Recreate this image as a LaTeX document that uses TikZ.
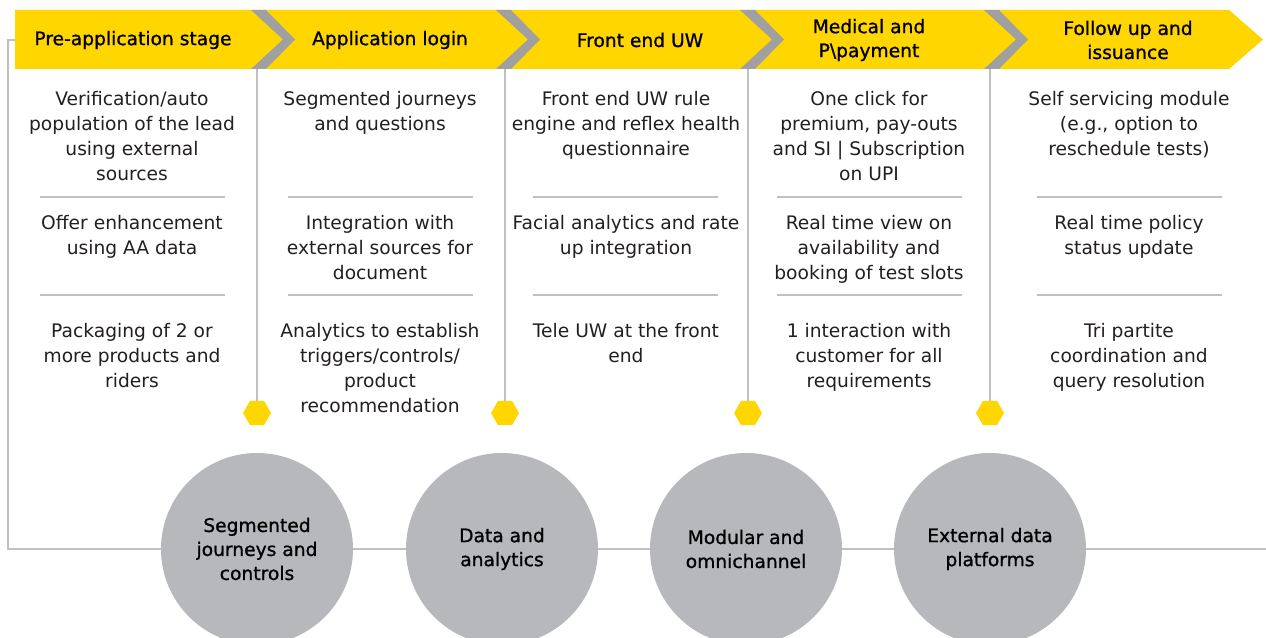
\documentclass[tikz,border=0pt]{standalone}
\usepackage{fontspec}
\setmainfont{DejaVu Sans}
\newfontfamily\headfont[FakeBold=1.0]{DejaVu Sans}
\usetikzlibrary{shapes.geometric}

\definecolor{eyyellow}{RGB}{255,214,0}
\definecolor{chevgray}{RGB}{160,160,160}
\definecolor{linegray}{RGB}{192,192,192}
\definecolor{circgray}{RGB}{182,184,187}
\definecolor{inkgray}{RGB}{35,31,32}

\newcommand{\colstrut}{\rule{0pt}{11.25pt}}

\begin{document}
\begin{tikzpicture}[x=0.75pt, y=-0.75pt]

\tikzstyle{every node}=[font=\fontsize{14}{18.75}\selectfont, text=inkgray]
\tikzstyle{head} = [font=\headfont\fontsize{14}{18}\selectfont, text=black, align=center, inner sep=0]
\tikzstyle{item} = [align=center, anchor=north, inner sep=0]
\tikzstyle{hub} = [circle, fill=circgray, minimum size=144pt, inner sep=0, align=center, text=black, font=\headfont\fontsize{14}{18}\selectfont]
\tikzstyle{hexa} = [regular polygon, regular polygon sides=6, fill=eyyellow, minimum size=21pt, inner sep=0]
\tikzstyle{guide} = [draw=linegray, line width=1.1pt]
\tikzstyle{rule} = [draw=linegray, line width=1.5pt]

\useasboundingbox (0,0) rectangle (1266,638);

% Header band
\fill[eyyellow] (15,10) -- (1229,10) -- (1263,39.5) -- (1229,69) -- (15,69) -- cycle;
\foreach \a in {251,496,740,984}
  \fill[chevgray] (\a,10) -- (\a+15,10) -- (\a+44,39.5) -- (\a+15,69) -- (\a,69) -- (\a+32,39.5) -- cycle;

% Stages
\node[head] (prestage) at (133,40) {Pre-application stage};
\node[head] (login) at (390,40) {Application login};
\node[head] (frontuw) at (640,40) {Front end UW};
\node[head] (medical) at (869,40) {Medical and\\P\textbackslash payment};
\node[head] (issuance) at (1128,40) {Follow up and\\issuance};

% Frame line
\coordinate (fstart) at (15,40);
\coordinate (fend) at (1266,549);
\draw[guide] (fstart) -- ++(-7,0) |- (fend);

% Drops and hexagons
\foreach \x [count=\i] in {257,505,748,990} {
  \coordinate (drop\i) at (\x,69);
  \node[hexa] (hx\i) at (\x,413) {};
  \draw[guide] (drop\i) -- (hx\i);
}

% Separators
\foreach \c in {132,380,625.5,869.5,1129.5} {
  \draw[rule] (\c-92.5,196.5) -- (\c+92.5,196.5);
  \draw[rule] (\c-92.5,294.5) -- (\c+92.5,294.5);
}

% Column 1
\node[item] (verify) at (132,90) {\colstrut Verification/auto\\population of the lead\\using external\\sources};
\node[item] (offer) at (132,214) {\colstrut Offer enhancement\\using AA data};
\node[item] (packaging) at (132,322) {\colstrut Packaging of 2 or\\more products and\\riders};

% Column 2
\node[item] (segjour) at (380,90) {\colstrut Segmented journeys\\and questions};
\node[item] (integration) at (380,214) {\colstrut Integration with\\external sources for\\document};
\node[item] (triggers) at (380,322) {\colstrut Analytics to establish\\triggers/controls/\\product\\recommendation};

% Column 3
\node[item] (ruleengine) at (626,90) {\colstrut Front end UW rule\\engine and reflex health\\questionnaire};
\node[item] (facial) at (626,214) {\colstrut Facial analytics and rate\\up integration};
\node[item] (teleuw) at (626,322) {\colstrut Tele UW at the front\\end};

% Column 4
\node[item] (oneclick) at (869,90) {\colstrut One click for\\premium, pay-outs\\and SI | Subscription\\on UPI};
\node[item] (realview) at (869,214) {\colstrut Real time view on\\availability and\\booking of test slots};
\node[item] (oneint) at (869,322) {\colstrut 1 interaction with\\customer for all\\requirements};

% Column 5
\node[item] (selfserv) at (1129,90) {\colstrut Self servicing module\\(e.g., option to\\reschedule tests)};
\node[item] (policystatus) at (1129,214) {\colstrut Real time policy\\status update};
\node[item] (tripartite) at (1129,322) {\colstrut Tri partite\\coordination and\\query resolution};

% Hubs
\node[hub] (segmented) at (257,549) {Segmented\\journeys and\\controls};
\node[hub] (dataan) at (502,549) {Data and\\analytics};
\node[hub] (modular) at (746,549) {Modular and\\omnichannel};
\node[hub] (extdata) at (990,549) {External data\\platforms};

\end{tikzpicture}
\end{document}
